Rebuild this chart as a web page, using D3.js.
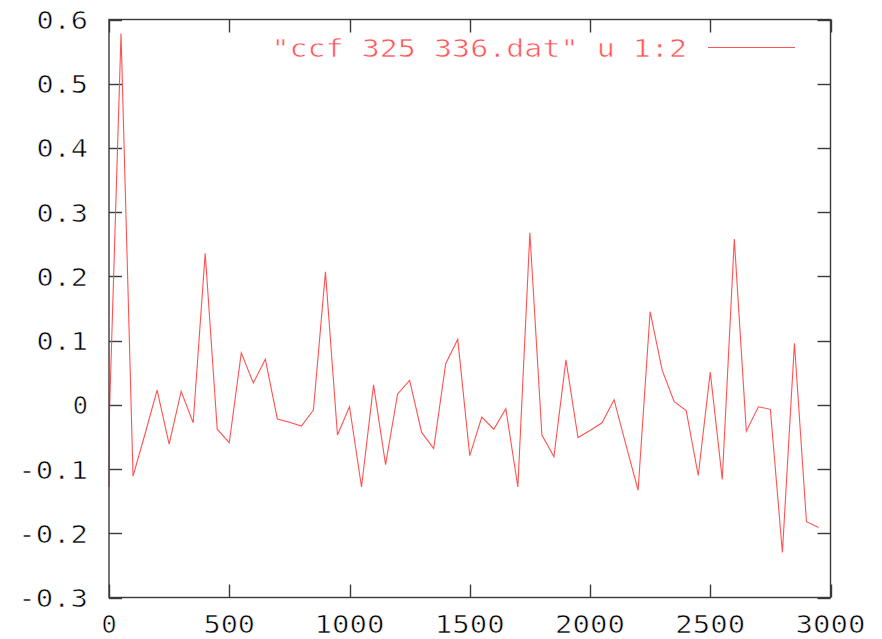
<!DOCTYPE html>
<html>
<head>
<meta charset="utf-8">
<script src="https://cdn.jsdelivr.net/npm/d3@7"></script>
<style>
  html, body { margin: 0; padding: 0; background: #fff; }
  svg { display: block; }
  text { font-family: "DejaVu Sans Mono", "Liberation Mono", monospace; }
</style>
</head>
<body>
<svg id="chart" width="882" height="639"></svg>
<script>
// Cross-correlation: lag (column 1) vs coefficient (column 2)
const lags = [0, 2, 50, 100, 150, 200, 250, 300, 350, 400, 450, 500, 550, 600, 650, 700,
  750, 800, 850, 900, 950, 1000, 1050, 1100, 1150, 1200, 1250, 1300, 1350, 1400, 1450,
  1500, 1550, 1600, 1650, 1700, 1750, 1800, 1850, 1900, 1950, 2000, 2050, 2100, 2150,
  2200, 2250, 2300, 2350, 2400, 2450, 2500, 2550, 2600, 2650, 2700, 2750, 2800, 2850,
  2900, 2950];
const ccf = [-0.128, -0.012, 0.578, -0.111, -0.045, 0.023, -0.061, 0.021, -0.028, 0.236,
  -0.038, -0.059, 0.081, 0.034, 0.071, -0.022, -0.027, -0.033, -0.008, 0.207, -0.047,
  -0.003, -0.128, 0.031, -0.093, 0.017, 0.038, -0.043, -0.068, 0.064, 0.102, -0.079,
  -0.019, -0.038, -0.006, -0.128, 0.268, -0.047, -0.081, 0.070, -0.051, -0.040, -0.028,
  0.008, -0.063, -0.133, 0.145, 0.054, 0.005, -0.009, -0.110, 0.051, -0.116, 0.258,
  -0.041, -0.003, -0.007, -0.230, 0.096, -0.182, -0.191];
const xTicks = [0, 500, 1000, 1500, 2000, 2500, 3000];
const yTicks = [-0.3, -0.2, -0.1, 0, 0.1, 0.2, 0.3, 0.4, 0.5, 0.6];
const seriesLabel = '"ccf 325 336.dat" u 1:2';

const svg = d3.select("#chart");
const plotL = 109, plotR = 830.5, plotT = 19.5, plotB = 597.5;
const x = d3.scaleLinear().domain([0, 3000]).range([plotL, plotR]);
const y = d3.scaleLinear().domain([-0.3, 0.6]).range([plotB, plotT]);

const red = "#ff5252";
const axisColor = "#3a3a3a";
const textColor = "#000";
const pitch = 18.2;     // monospace character advance
const tickLen = 13;
const fontSize = 25;

// thin, wide monospace label: glyphs stretched to the advance and slimmed by a white outline
function label(g, str, px, py, anchor, color) {
  return g.append("text")
    .attr("x", px).attr("y", py)
    .attr("text-anchor", anchor)
    .attr("font-size", fontSize)
    .attr("fill", color)
    .attr("stroke", "#fff")
    .attr("stroke-width", 0.6)
    .attr("textLength", str.length * pitch - 3)
    .attr("lengthAdjust", "spacingAndGlyphs")
    .text(str);
}

const fmtY = v => (Math.abs(v) < 1e-9 ? "0" : d3.format(".1f")(v).replace("−", "-"));

// tick marks drawn inward on all four sides
const ticks = svg.append("g").attr("stroke", axisColor).attr("stroke-width", 1.4);
yTicks.forEach(v => {
  const py = Math.round(y(v)) + 0.5;
  ticks.append("line").attr("x1", plotL).attr("x2", plotL + tickLen).attr("y1", py).attr("y2", py);
  ticks.append("line").attr("x1", plotR).attr("x2", plotR - tickLen).attr("y1", py).attr("y2", py);
});
xTicks.forEach(v => {
  const px = Math.round(x(v)) + 0.5;
  ticks.append("line").attr("x1", px).attr("x2", px).attr("y1", plotB).attr("y2", plotB - tickLen);
  ticks.append("line").attr("x1", px).attr("x2", px).attr("y1", plotT).attr("y2", plotT + tickLen);
});

// tick labels
const labels = svg.append("g");
yTicks.forEach(v => {
  label(labels, fmtY(v), 88, y(v) + 9.5, "end", textColor);
});
xTicks.forEach(v => {
  label(labels, String(v), x(v), 633, "middle", textColor);
});

// data line
const line = d3.line().x((d, i) => x(lags[i])).y(d => y(d));
svg.append("path")
  .datum(ccf)
  .attr("d", line)
  .attr("fill", "none")
  .attr("stroke", red)
  .attr("stroke-width", 1.1)
  .attr("stroke-linejoin", "miter");

// key
label(svg, seriesLabel, 687, 57, "end", red);
svg.append("line")
  .attr("x1", 708).attr("x2", 795).attr("y1", 47.5).attr("y2", 47.5)
  .attr("stroke", red).attr("stroke-width", 1.1);

// plot border
svg.append("rect")
  .attr("x", plotL).attr("y", plotT)
  .attr("width", plotR - plotL).attr("height", plotB - plotT)
  .attr("fill", "none")
  .attr("stroke", axisColor)
  .attr("stroke-width", 1.4);
</script>
</body>
</html>
